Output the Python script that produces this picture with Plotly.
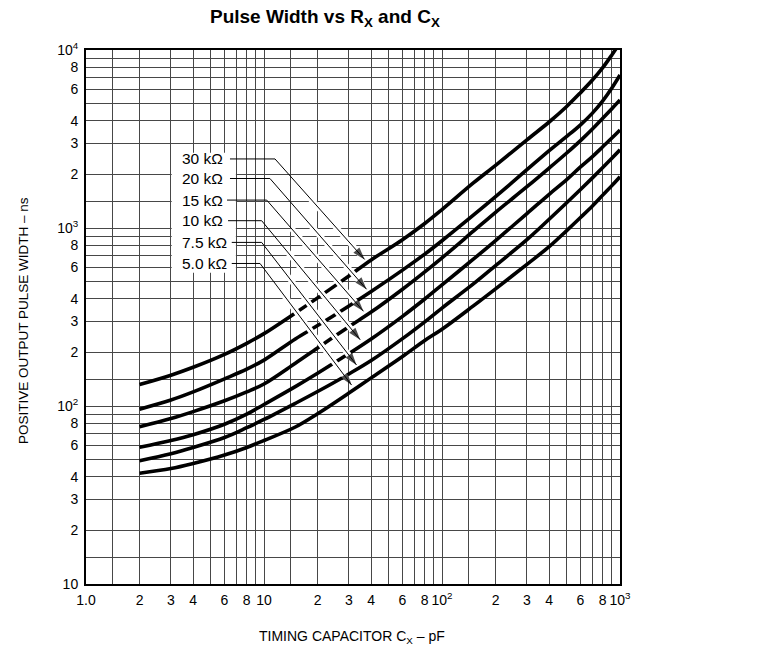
import math
import plotly.graph_objects as go

# ---------------- data ----------------
cap_pf = [2, 3, 4, 6, 8, 10, 15, 20, 30, 40, 60, 80, 100, 150, 200, 300, 400, 500, 600, 700, 800, 900, 1000]

pw_30k = [132, 149, 165, 195, 225, 255, 333, 405, 538, 662, 860, 1060, 1270, 1792, 2250, 3130, 3940, 4800, 5760, 6780, 7960, 9385, 10990]
pw_20k = [96, 108, 120, 142, 161, 181, 238, 283, 365, 440, 580, 713, 848, 1180, 1500, 2125, 2720, 3258, 3800, 4420, 5180, 6120, 7244]
pw_15k = [76.5, 85, 93, 107, 120, 133, 174, 212, 279, 337, 453, 567, 680, 959, 1225, 1706, 2172, 2630, 3098, 3597, 4140, 4680, 5240]
pw_10k = [58.6, 64, 69, 79, 90, 102, 128.5, 152.7, 197, 238, 319, 399, 479, 668, 850, 1205, 1547, 1862, 2203, 2520, 2860, 3200, 3556]
pw_7k5 = [49.3, 54, 58.5, 66.5, 75.5, 84, 103.5, 120.6, 151.4, 180, 239, 297, 355, 485, 615, 860, 1120, 1381, 1645, 1913, 2186, 2466, 2750]
pw_5k = [41.9, 44.5, 47.5, 53, 58.5, 64, 76.2, 90.5, 118.3, 143.9, 189.7, 233.4, 270, 365, 455, 625, 785, 964, 1146, 1330, 1530, 1730, 1941]

rx_labels = ["30 kΩ", "20 kΩ", "15 kΩ", "10 kΩ", "7.5 kΩ", "5.0 kΩ"]
series = [pw_30k, pw_20k, pw_15k, pw_10k, pw_7k5, pw_5k]

# labelled ticks
x_tick_vals = [1, 2, 3, 4, 6, 8, 10, 20, 30, 40, 60, 80, 100, 200, 300, 400, 600, 800, 1000]
x_tick_text = ["1.0", "2", "3", "4", "6", "8", "10", "2", "3", "4", "6", "8", "10<sup>2</sup>",
               "2", "3", "4", "6", "8", "10<sup>3</sup>"]
y_tick_vals = [10, 20, 30, 40, 60, 80, 100, 200, 300, 400, 600, 800, 1000, 2000, 3000, 4000, 6000, 8000, 10000]
y_tick_text = ["10", "2", "3", "4", "6", "8", "10<sup>2</sup>", "2", "3", "4", "6", "8", "10<sup>3</sup>",
               "2", "3", "4", "6", "8", "10<sup>4</sup>"]
# unlabelled grid lines
minor_mult = [1.4, 5, 7, 9]
x_minor_vals = [m * d for d in (1, 10, 100) for m in minor_mult]
y_minor_vals = [m * d for d in (10, 100, 1000) for m in minor_mult]

# ---------------- label / leader layout (positions in axis units) ----------------
label_x = 3.37
label_y = [2443, 1897, 1435, 1099, 830, 632]
lead_start_x = [6.44, 6.44, 6.2, 6.28, 6.59, 6.59]
lead_bend_x = [11.53, 10.8, 10.36, 9.7, 9.7, 9.5]
tip_x = [37.4, 38.4, 36.9, 35.4, 33.7, 31.6]
tip_y = [653, 443, 333, 230, 166, 128]

box_x = [3.03, 6.95]
box_y = [560, 2650]

FONT = "Arial, Liberation Sans, sans-serif"
GRID = "#474747"

fig = go.Figure()

# white box behind the resistor labels
fig.add_trace(go.Scatter(
    x=[box_x[0], box_x[1], box_x[1], box_x[0], box_x[0]],
    y=[box_y[0], box_y[0], box_y[1], box_y[1], box_y[0]],
    mode="lines", fill="toself", fillcolor="white",
    line=dict(width=0, color="white"), hoverinfo="skip", showlegend=False))

# curves
for name, vals in zip(rx_labels, series):
    fig.add_trace(go.Scatter(
        x=cap_pf, y=vals, mode="lines", name=name,
        line=dict(color="black", width=3.6, shape="spline", smoothing=1.0),
        showlegend=False))


def lerp_log(a, b, f):
    return 10 ** (math.log10(a) + f * (math.log10(b) - math.log10(a)))


annotations = []
for i in range(len(rx_labels)):
    # white gap where leaders cross the curves
    gx = [lerp_log(lead_bend_x[i], tip_x[i], f) for f in (0.25, 0.95)]
    gy = [lerp_log(label_y[i], tip_y[i], f) for f in (0.25, 0.95)]
    fig.add_trace(go.Scatter(x=gx, y=gy, mode="lines",
                             line=dict(color="white", width=6),
                             hoverinfo="skip", showlegend=False))
    # leader: horizontal run, diagonal, arrowhead at the end
    end_x = lerp_log(lead_bend_x[i], tip_x[i], 0.985)
    end_y = lerp_log(label_y[i], tip_y[i], 0.985)
    fig.add_trace(go.Scatter(
        x=[lead_start_x[i], lead_bend_x[i], end_x],
        y=[label_y[i], label_y[i], end_y],
        mode="lines+markers", line=dict(color="black", width=1),
        marker=dict(symbol="arrow", size=[0, 0, 13], color="black",
                    angleref="previous", line=dict(width=0)),
        hoverinfo="skip", showlegend=False))
    annotations.append(dict(
        x=math.log10(label_x), y=math.log10(label_y[i]), xref="x", yref="y",
        text=rx_labels[i], showarrow=False, xanchor="left", yanchor="middle",
        font=dict(family=FONT, size=15.5, color="black")))

# titles
annotations.append(dict(
    x=0.4475, y=1.0, xref="paper", yref="paper", yshift=32,
    text="<b>Pulse Width vs R<sub>X</sub> and C<sub>X</sub></b>", showarrow=False,
    xanchor="center", yanchor="middle", font=dict(family=FONT, size=19, color="black")))
annotations.append(dict(
    x=0.498, y=0, xref="paper", yref="paper", yshift=-53,
    text="TIMING CAPACITOR C<sub>X</sub> – pF", showarrow=False,
    xanchor="center", yanchor="middle", font=dict(family=FONT, size=14, color="black")))
annotations.append(dict(
    x=0, y=0.4925, xref="paper", yref="paper", xshift=-63,
    text="POSITIVE OUTPUT PULSE WIDTH – ns", showarrow=False, textangle=-90,
    xanchor="center", yanchor="middle", font=dict(family=FONT, size=13.5, color="black")))

axis_common = dict(
    type="log", tickmode="array", showgrid=True, gridcolor=GRID, gridwidth=1,
    showline=True, linecolor="black", linewidth=2, mirror=True, ticks="",
    zeroline=False, tickfont=dict(family=FONT, size=14, color="black"))

fig.update_layout(
    width=760, height=655,
    margin=dict(l=86, r=140, t=50, b=71),
    paper_bgcolor="white", plot_bgcolor="white",
    hovermode=False,
    xaxis=dict(range=[0, 3], tickvals=x_tick_vals, ticktext=x_tick_text,
               minor=dict(tickmode="array", tickvals=x_minor_vals, showgrid=True,
                          gridcolor=GRID, gridwidth=1, ticks=""),
               ticklabelstandoff=2, **axis_common),
    yaxis=dict(range=[1, 4], tickvals=y_tick_vals, ticktext=y_tick_text,
               minor=dict(tickmode="array", tickvals=y_minor_vals, showgrid=True,
                          gridcolor=GRID, gridwidth=1, ticks=""),
               ticklabelstandoff=3, **axis_common),
    annotations=annotations, showlegend=False)

# remove the page's default body margin so the figure fills the window exactly
fig.write_html("out.html",
               config={"displayModeBar": False, "staticPlot": True},
               post_script="document.body.style.margin='0';document.body.style.padding='0';")
